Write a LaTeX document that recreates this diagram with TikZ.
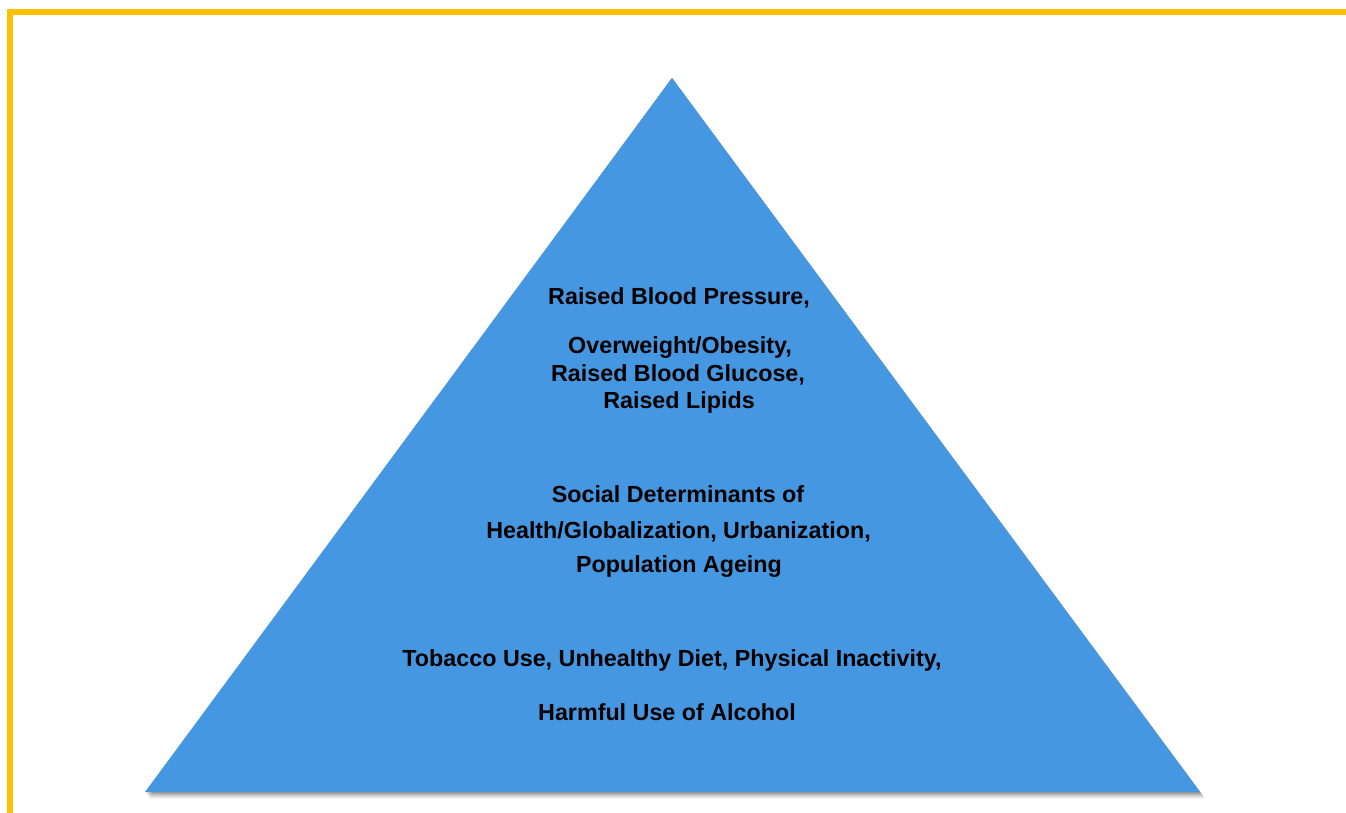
\documentclass[tikz,border=0pt]{standalone}
\usepackage{fontspec}
\setmainfont{Liberation Sans}
\definecolor{frameyellow}{HTML}{FFC000}
\definecolor{pyrblue}{HTML}{4697E1}
\begin{document}
\begin{tikzpicture}[x=1pt,y=1pt,
  lbl/.style={anchor=base,inner sep=0pt,font=\fontsize{23.3}{27}\selectfont\bfseries,text=black}]
\useasboundingbox (0,0) rectangle (1346,813);
\fill[white] (0,0) rectangle (1346,813);
% frame
\draw[frameyellow,line width=6pt] (10,-10) -- (10,801) -- (1360,801);
% shadow
\foreach \d/\o in {1/0.10,2/0.09,3/0.08,4/0.07,5/0.06,6/0.05,7/0.04}{
  \fill[black,opacity=\o] (145+\d*0.6,21-\d) -- (1200+\d*0.8,21-\d) -- (672,735) -- cycle;
}
% pyramid
\coordinate (apex) at (672,735);
\coordinate (bl) at (145,21);
\coordinate (br) at (1200,21);
\fill[pyrblue] (bl) -- (br) -- (apex) -- cycle;
% texts
\node[lbl] (t1) at (679,508.5) {Raised Blood Pressure,};
\node[lbl] (t2) at (680,459.5) {Overweight/Obesity,};
\node[lbl] (t3) at (678,431.5) {Raised Blood Glucose,};
\node[lbl] (t4) at (679,404.5) {Raised Lipids};
\node[lbl] (t5) at (678,310.5) {Social Determinants of};
\node[lbl] (t6) at (678.5,274.5) {Health/Globalization, Urbanization,};
\node[lbl] (t7) at (679,240.5) {Population Ageing};
\node[lbl] (t8) at (672,146) {Tobacco Use, Unhealthy Diet, Physical Inactivity,};
\node[lbl] (t9) at (667,92) {Harmful Use of Alcohol};
\end{tikzpicture}
\end{document}
